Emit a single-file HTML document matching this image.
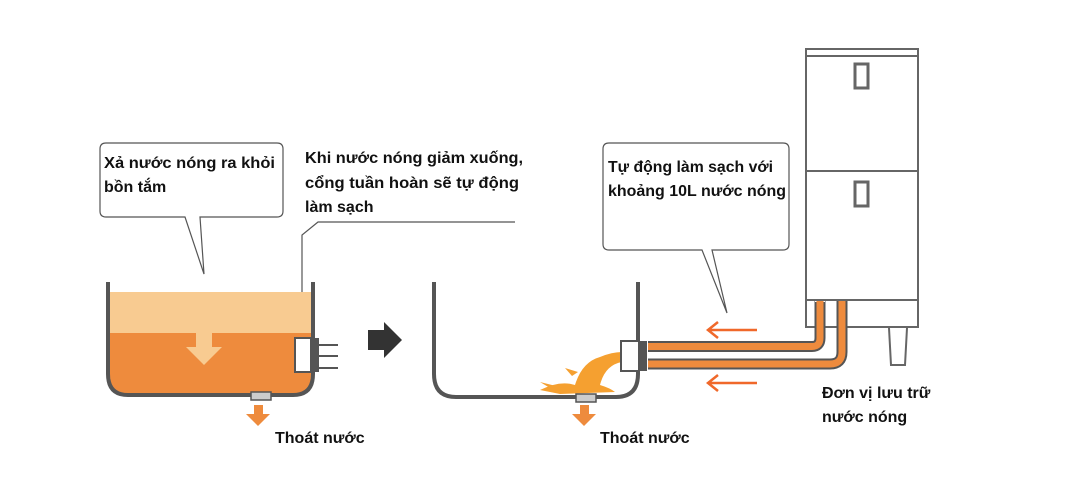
<!DOCTYPE html>
<html><head><meta charset="utf-8"><style>html,body{margin:0;padding:0;background:#fff}svg{display:block}text{font-family:"Liberation Sans",sans-serif;font-weight:bold;font-size:16px;fill:#111}</style></head><body>
<svg width="1077" height="495" viewBox="0 0 1077 495" xmlns="http://www.w3.org/2000/svg">
<!-- bubble 1 -->
<path d="M106 143 H277 Q283 143 283 149 V211 Q283 217 277 217 H200 L204 274 L185 217 H106 Q100 217 100 211 V149 Q100 143 106 143 Z" fill="#fff" stroke="#555" stroke-width="1.2"/>
<text x="104" y="168" textLength="171" lengthAdjust="spacingAndGlyphs">Xả nước nóng ra khỏi</text>
<text x="104" y="192">bồn tắm</text>
<!-- text 2 -->
<text x="305" y="163" textLength="218" lengthAdjust="spacingAndGlyphs">Khi nước nóng giảm xuống,</text>
<text x="305" y="188" textLength="214" lengthAdjust="spacingAndGlyphs">cổng tuần hoàn sẽ tự động</text>
<text x="305" y="212">làm sạch</text>
<path d="M302 340 V235 L318 222 H515" fill="none" stroke="#555" stroke-width="1.2"/>
<!-- tub1 -->
<path d="M110 292 H311 V376 Q311 394 293 394 H128 Q110 394 110 376 Z" fill="#f8cb91"/>
<path d="M110 333 H311 V376 Q311 394 293 394 H128 Q110 394 110 376 Z" fill="#ee8b3d"/>
<path d="M196 333 H212 V347 H222 L204 365 L186 347 H196 Z" fill="#f8cb91"/>
<path d="M108 282 V374 Q108 395 128 395 H293 Q313 395 313 374 V282" fill="none" stroke="#555" stroke-width="4"/>
<rect x="251" y="392" width="20" height="8" fill="#ccc" stroke="#555" stroke-width="1.5"/>
<path d="M254 405 H263 V414 H270 L258 426 L246 414 H254 Z" fill="#ee8b3d"/>
<text x="275" y="443">Thoát nước</text>
<rect x="295" y="338" width="16" height="34" fill="#fff" stroke="#555" stroke-width="2"/>
<rect x="313" y="338" width="6" height="34" fill="#555"/>
<path d="M319 345 H338 M319 356 H338 M319 368 H338" stroke="#555" stroke-width="2"/>
<!-- big arrow -->
<path d="M368 330 H384 V322 L402 340 L384 358 V350 H368 Z" fill="#333"/>
<!-- tub2 -->
<path d="M434 282 V374 Q434 397 456 397 H616 Q638 397 638 374 V282" fill="none" stroke="#555" stroke-width="4"/>
<path d="M540 390 Q560 380 575 385 Q582 362 600 357 Q612 352 622 352 L622 362 Q605 365 600 385 Q610 388 615 392 L560 394 Z" fill="#f5a030"/>
<path d="M550 388 L540 382 L556 386 Z M572 376 L565 368 L578 372 Z" fill="#f5a030"/>
<rect x="576" y="394" width="20" height="8" fill="#ccc" stroke="#555" stroke-width="1.5"/>
<path d="M580 405 H589 V414 H596 L584 426 L572 414 H580 Z" fill="#ee8b3d"/>
<text x="600" y="443">Thoát nước</text>
<!-- pipes -->
<path d="M648 346.5 H812 Q820 346.5 820 338 V300" fill="none" stroke="#555" stroke-width="11"/>
<path d="M648 346.5 H812 Q820 346.5 820 338 V300" fill="none" stroke="#ee8b3d" stroke-width="7"/>
<path d="M648 364 H830 Q842 364 842 352 V300" fill="none" stroke="#555" stroke-width="11"/>
<path d="M648 364 H830 Q842 364 842 352 V300" fill="none" stroke="#ee8b3d" stroke-width="7"/>
<rect x="621" y="341" width="18" height="30" fill="#fff" stroke="#555" stroke-width="2"/>
<rect x="639" y="341" width="8" height="30" fill="#555"/>
<!-- arrows -->
<path d="M757 330 H708 M718 322 L708 330 L718 338" fill="none" stroke="#f0682a" stroke-width="2.5"/>
<path d="M757 383 H708 M718 375 L708 383 L718 391" fill="none" stroke="#f0682a" stroke-width="2.5"/>
<!-- bubble 3 -->
<path d="M609 143 H783 Q789 143 789 149 V244 Q789 250 783 250 H712 L727 313 L702 250 H609 Q603 250 603 244 V149 Q603 143 609 143 Z" fill="#fff" stroke="#555" stroke-width="1.2"/>
<text x="608" y="172" textLength="165" lengthAdjust="spacingAndGlyphs">Tự động làm sạch với</text>
<text x="608" y="196" textLength="178" lengthAdjust="spacingAndGlyphs">khoảng 10L nước nóng</text>
<!-- cabinet -->
<rect x="806" y="49" width="112" height="278" fill="none" stroke="#666" stroke-width="2"/>
<path d="M806 56 H918 M806 171 H918 M806 300 H918" stroke="#666" stroke-width="2"/>
<rect x="855" y="64" width="13" height="24" fill="none" stroke="#666" stroke-width="3"/>
<rect x="855" y="182" width="13" height="24" fill="none" stroke="#666" stroke-width="3"/>
<path d="M889 328 L891 365 H905 L907 328" fill="none" stroke="#666" stroke-width="2"/>
<rect x="815" y="301" width="10" height="26" fill="#fff"/>
<path d="M820 302 V338" stroke="#555" stroke-width="11"/><path d="M820 301 V338" stroke="#ee8b3d" stroke-width="7"/>
<path d="M842 302 V352" stroke="#555" stroke-width="11"/><path d="M842 301 V352" stroke="#ee8b3d" stroke-width="7"/>
<text x="822" y="398">Đơn vị lưu trữ</text>
<text x="822" y="422">nước nóng</text>
</svg>
</body></html>
